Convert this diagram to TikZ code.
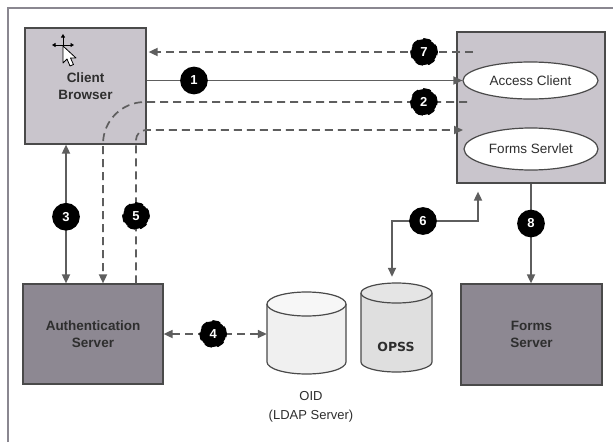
\documentclass[tikz,border=0pt]{standalone}
\usepackage{fontspec}
\setmainfont{Liberation Sans}
\newfontfamily\opssfont{DejaVu Sans}
\usetikzlibrary{arrows.meta,calc,shapes.geometric}
\definecolor{lightbox}{HTML}{C9C5CC}
\definecolor{darkbox}{HTML}{8D8892}
\definecolor{edgecol}{HTML}{4A4A4A}
\definecolor{linecol}{HTML}{5E5E5E}
\definecolor{txtcol}{HTML}{2E2E2E}
\definecolor{framecol}{HTML}{8A8790}
\tikzset{
  box/.style={draw=edgecol, line width=1.2pt, inner sep=0pt, align=center,
    text=txtcol, font=\bfseries\fontsize{13.5}{17}\selectfont},
  lbox/.style={box, fill=lightbox},
  dbox/.style={box, fill=darkbox},
  comp/.style={ellipse, draw=edgecol, line width=1.2pt, fill=white, inner sep=0pt,
    text=txtcol, font=\fontsize{13.5}{16}\selectfont},
  num/.style={circle, fill=black, draw=black, minimum size=26pt, inner sep=0pt,
    text=white, font=\bfseries\fontsize{13}{13}\selectfont},
  conn/.style={draw=linecol, line width=1.7pt,
    arrows={-Triangle[length=9pt,width=8pt]}},
  dconn/.style={conn, dash pattern=on 8pt off 5pt},
  anchorbox/.style={inner sep=0pt, draw=none},
  curs/.style={draw=black, line width=1pt, -{Triangle[length=3.5pt,width=4pt]}}
}
\begin{document}
\begin{tikzpicture}[x=1pt,y=1pt,yscale=-1]
\useasboundingbox (0,0) rectangle (613,442);
\fill[white] (0,0) rectangle (613,442);
% frame
\draw[framecol, line width=1.5pt] (8,442) -- (8,8) -- (613,8);

% boxes
\node[lbox, minimum width=121pt, minimum height=116pt] (cb) at (85.5,86) {Client\\Browser};
\node[lbox, minimum width=148pt, minimum height=151pt] (rb) at (531,107.5) {};
\node[comp, minimum width=135pt, minimum height=37pt] (ac) at (530.5,80.5) {Access Client};
\node[comp, minimum width=134pt, minimum height=42pt] (fs) at (531,149) {Forms Servlet};
\node[dbox, minimum width=140pt, minimum height=100pt] (as) at (93,334) {Authentication\\Server};
\node[dbox, minimum width=141pt, minimum height=101pt] (fsv) at (531.5,334.5) {Forms\\Server};

% cursor
\draw[curs] (63,45) -- (63,34);
\draw[curs] (63,45) -- (52,45);
\draw[curs] (63,45) -- (74,45);
\draw[draw=black, line width=0.8pt, fill=white, line join=round] (63,46) -- (63,63) -- (67,59) -- (70,66) -- (73.5,64.5) -- (70.5,58) -- (76,58) -- cycle;

% OID cylinder
\fill[gray!12] (267,304) -- (267,362) arc (180:0:39.5 and 12) -- (346,304) -- cycle;
\draw[edgecol, line width=1.2pt] (267,304) -- (267,362) arc (180:0:39.5 and 12) -- (346,304);
\draw[edgecol, line width=1.2pt, fill=gray!6] (306.5,304) ellipse (39.5 and 12);
\node[anchorbox, minimum width=79pt, minimum height=82pt] (oid) at (306.5,333) {};
\node[text=txtcol, font=\fontsize{13}{19}\selectfont, align=center] (oidlab) at (311,407) {OID\\(LDAP Server)};

% OPSS cylinder
\fill[gray!25] (361,293) -- (361,362) arc (180:0:35.5 and 10) -- (432,293) -- cycle;
\draw[edgecol, line width=1.2pt] (361,293) -- (361,362) arc (180:0:35.5 and 10) -- (432,293);
\draw[edgecol, line width=1.2pt, fill=gray!20] (396.5,293) ellipse (35.5 and 10);
\node[anchorbox, minimum width=71pt, minimum height=90pt] (opss) at (396.5,328) {};
\node[text=txtcol, font=\opssfont\bfseries\fontsize{12.5}{14}\selectfont] (opsslab) at (396,347) {OPSS};

% connectors
\coordinate (s7) at (473,52);
\coordinate (s2) at (467,102);
\coordinate (b2) at (145,102);
\coordinate (k2) at (103,144);
\coordinate (b5) at (136,140);
\coordinate (e5) at (463,130);
\coordinate (k6) at (392,221);

% 1
\draw[conn] (cb.east |- ac.west) -- node[num, pos=0.15]{1} (ac.west);
% 7
\draw[dconn, shorten >=2pt] (s7) -- node[num, pos=0.15]{7} (s7 -| cb.east);
% 2
\draw[dconn] (s2) -- node[num, pos=0.134]{2} (b2) arc (270:180:42) -- (k2 |- as.north);
% 5
\draw[dconn] ([xshift=43pt]as.north) -- node[num, pos=0.47]{5} (b5) arc (180:270:10) -- (e5);
% 3
\draw[conn, arrows={Triangle[length=9pt,width=8pt]-Triangle[length=9pt,width=8pt]}]
  ([xshift=-19.5pt]cb.south) -- node[num, pos=0.52]{3} ([xshift=-27pt]as.north);
% 4
\draw[dconn, arrows={Triangle[length=9pt,width=8pt]-Triangle[length=9pt,width=8pt]}]
  (as.east) -- node[num, pos=0.48]{4} (as.east -| oid.west);
% 6
\draw[conn, arrows={Triangle[length=9pt,width=8pt]-Triangle[length=9pt,width=8pt]}, shorten <=8pt, shorten >=6pt]
  ([xshift=-53pt]rb.south) -- ([xshift=-53pt]rb.south |- k6) -- node[num, pos=0.64]{6} (k6) -- (k6 |- opss.north);
% 8
\draw[conn] (rb.south) -- node[num, pos=0.4]{8} (rb.south |- fsv.north);
\end{tikzpicture}
\end{document}
